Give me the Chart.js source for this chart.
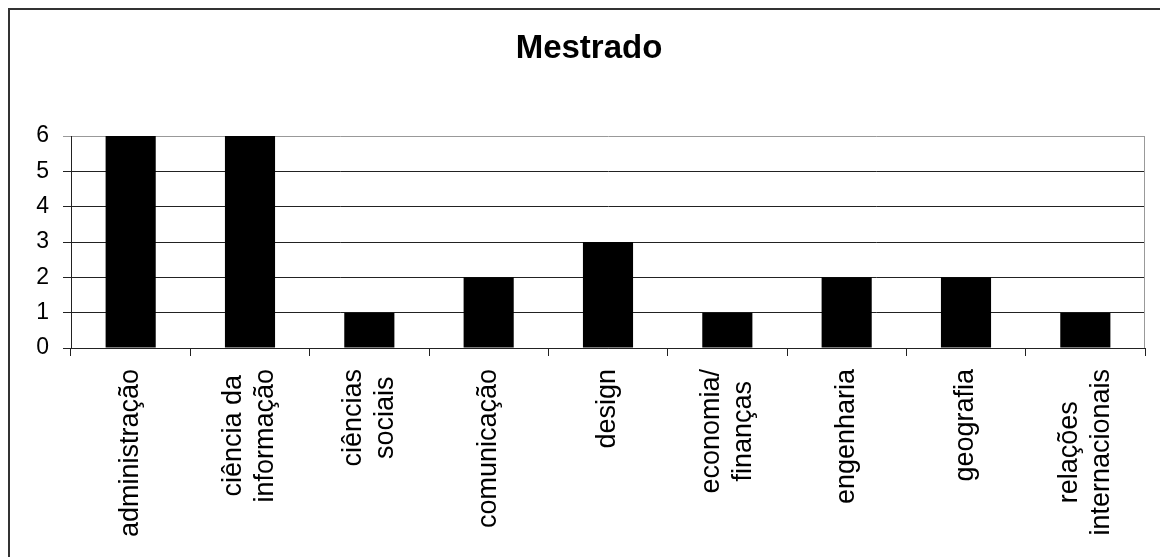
<!DOCTYPE html>
<html lang="pt">
<head>
<meta charset="utf-8">
<title>Mestrado</title>
<script src="https://cdn.jsdelivr.net/npm/chart.js@4.4.1/dist/chart.umd.min.js"></script>
<style>
  html, body { margin: 0; padding: 0; background: #fff; }
  canvas { display: block; }
</style>
</head>
<body>
<canvas id="chart" width="1160" height="557"></canvas>
<script>
// Áreas de formação (cada linha do rótulo é um item)
const categories = [
  ['administração'],
  ['ciência da', 'informação'],
  ['ciências', 'sociais'],
  ['comunicação'],
  ['design'],
  ['economia/', 'finanças'],
  ['engenharia'],
  ['geografia'],
  ['relações', 'internacionais']
];
// Número de alunos por área
const values = [6, 6, 1, 2, 3, 1, 2, 2, 1];
const yTicks = [0, 1, 2, 3, 4, 5, 6];

const FONT = '"Liberation Sans", Arial, sans-serif';

// Fundo branco e moldura externa
const framePlugin = {
  id: 'frame',
  beforeDraw(chart) {
    const ctx = chart.ctx;
    ctx.save();
    ctx.fillStyle = '#fff';
    ctx.fillRect(0, 0, chart.width, chart.height);
    ctx.strokeStyle = '#333';
    ctx.lineWidth = 2;
    ctx.beginPath();
    ctx.moveTo(9, chart.height);
    ctx.lineTo(9, 9);
    ctx.lineTo(chart.width, 9);
    ctx.stroke();
    ctx.restore();
  },
  afterDatasetsDraw(chart) {
    // borda direita da área de plotagem
    const a = chart.chartArea;
    const ctx = chart.ctx;
    ctx.save();
    ctx.strokeStyle = '#999';
    ctx.lineWidth = 1;
    ctx.beginPath();
    ctx.moveTo(Math.round(a.right) - 0.5, a.top);
    ctx.lineTo(Math.round(a.right) - 0.5, a.bottom);
    ctx.stroke();
    ctx.restore();
  }
};

// Rótulos verticais do eixo X, linhas centradas entre si
const LABEL_TOP = 369;
const LABEL_LINE = 32;
const verticalLabels = {
  id: 'verticalLabels',
  afterDraw(chart) {
    const xs = chart.scales.x;
    const ctx = chart.ctx;
    ctx.save();
    ctx.font = '27px ' + FONT;
    ctx.fillStyle = '#000';
    ctx.textAlign = 'center';
    ctx.textBaseline = 'middle';
    categories.forEach((lines, i) => {
      const cx = xs.getPixelForValue(i);
      const maxW = Math.max(...lines.map(l => ctx.measureText(l).width));
      const cy = LABEL_TOP + maxW / 2;
      lines.forEach((line, k) => {
        const x = cx + (k - (lines.length - 1) / 2) * LABEL_LINE;
        ctx.save();
        ctx.translate(x, cy);
        ctx.rotate(-Math.PI / 2);
        ctx.fillText(line, 0, 0);
        ctx.restore();
      });
    });
    ctx.restore();
  }
};

new Chart(document.getElementById('chart'), {
  type: 'bar',
  data: {
    labels: categories,
    datasets: [{
      data: values,
      backgroundColor: '#000',
      borderWidth: 0,
      categoryPercentage: 1,
      barPercentage: 0.42
    }]
  },
  options: {
    responsive: false,
    animation: false,
    devicePixelRatio: 1,
    layout: { padding: { left: 33, right: 15, top: 0, bottom: 0 } },
    plugins: {
      legend: { display: false },
      tooltip: { enabled: false },
      title: {
        display: true,
        text: 'Mestrado',
        color: '#000',
        font: { family: FONT, size: 33, weight: 'bold' },
        padding: { top: 29, bottom: 67.4 }
      }
    },
    scales: {
      x: {
        offset: true,
        grid: {
          offset: true,
          drawOnChartArea: false,
          drawTicks: true,
          tickLength: 8,
          color: '#222'
        },
        border: { display: true, color: '#222' },
        ticks: { display: false },
        afterFit(scale) { scale.height = 209; }
      },
      y: {
        min: 0,
        max: 6,
        afterBuildTicks(scale) { scale.ticks = yTicks.map(v => ({ value: v })); },
        grid: {
          color: ctx => (ctx.tick && ctx.tick.value === 6 ? '#999' : '#222'),
          tickLength: 8,
          lineWidth: 1
        },
        border: { display: true, color: '#222' },
        ticks: {
          color: '#000',
          padding: 14,
          font: { family: FONT, size: 23 }
        },
        afterFit(scale) { scale.width = 38; }
      }
    }
  },
  plugins: [framePlugin, verticalLabels]
});
</script>
</body>
</html>
